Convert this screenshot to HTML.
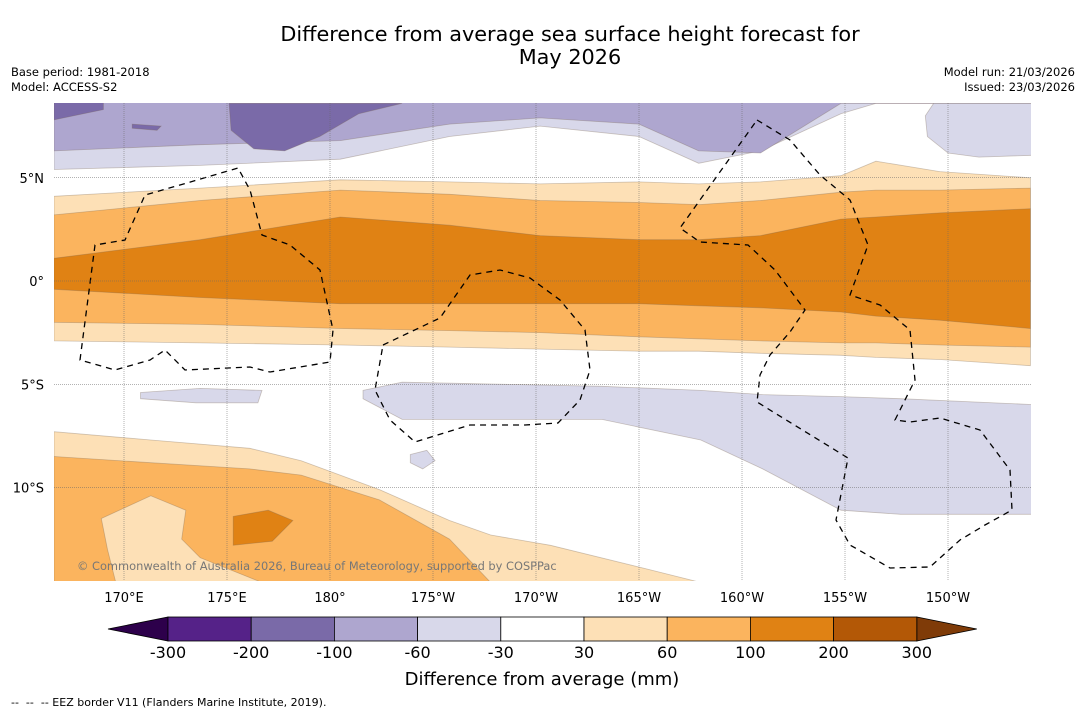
<!DOCTYPE html>
<html><head><meta charset="utf-8"><style>
body{margin:0;background:#fff;font-family:"Liberation Sans","DejaVu Sans",sans-serif;}
</style></head><body>
<svg id="chart" width="1085" height="713" xmlns="http://www.w3.org/2000/svg" style="font-family:'DejaVu Sans','Liberation Sans',sans-serif">
<rect width="1085" height="713" fill="#fff"/>
<text x="570" y="41" font-size="20.8" text-anchor="middle">Difference from average sea surface height forecast for</text>
<text x="570" y="64" font-size="20.8" text-anchor="middle">May 2026</text>
<text x="11" y="76" font-size="11.5">Base period: 1981-2018</text>
<text x="11" y="91" font-size="11.5">Model: ACCESS-S2</text>
<text x="1075" y="76" font-size="11.5" text-anchor="end">Model run: 21/03/2026</text>
<text x="1075" y="91" font-size="11.5" text-anchor="end">Issued: 23/03/2026</text>
<defs><clipPath id="mapclip"><rect x="54" y="103" width="977" height="478"/></clipPath></defs>
<g id="map" clip-path="url(#mapclip)"></g>
<g id="axes"></g>
<g id="cbar"></g>
<text x="542" y="685" font-size="18" text-anchor="middle">Difference from average (mm)</text>
<text x="11" y="706" font-size="11" xml:space="preserve" style="white-space:pre">--  --  -- EEZ border V11 (Flanders Marine Institute, 2019).</text>
</svg>
<script>
// ---- data ----
const levelLabels=["-300","-200","-100","-60","-30","30","60","100","200","300"];
const levelColors=["#552288","#7a6aa8","#aea6cf","#d8d8ea","#ffffff","#fde0b6","#fbb45e","#e08214","#b35806"];
const extendColors=["#2d004b","#7f3b08"];
const lonTicks=[170,175,180,185,190,195,200,205,210];
const lonTickLabels=["170°E","175°E","180°","175°W","170°W","165°W","160°W","155°W","150°W"];
const latTicks=[5,0,-5,-10];
const latTickLabels=["5°N","0°","5°S","10°S"];
// northern bands
const nLons=[166.6,173.7,180.5,185.8,190.2,195,197.9,200.9,204.8,206.5,209.6,214];
const lightOrTop=[4.1,4.5,4.9,4.8,4.7,4.8,4.7,4.8,5.1,5.8,5.3,5.0];
const lightOrBot=[-2.9,-3.0,-3.1,-3.2,-3.3,-3.4,-3.4,-3.5,-3.6,-3.7,-3.8,-4.1];
const midOrTop=[3.2,3.9,4.4,4.2,3.9,3.8,3.7,3.9,4.3,4.4,4.4,4.5];
const midOrBot=[-2.0,-2.1,-2.3,-2.4,-2.5,-2.7,-2.8,-2.9,-3.0,-3.0,-3.1,-3.2];
const darkOrTop=[1.1,2.0,3.1,2.7,2.2,2.0,2.0,2.2,3.0,3.1,3.3,3.5];
const darkOrBot=[-0.4,-0.8,-1.1,-1.1,-1.1,-1.1,-1.2,-1.3,-1.5,-1.7,-1.9,-2.3];
const lightPuBot=[5.4,5.6,5.9,7.0,7.5,7.0,5.7,6.3,8.1,8.6,8.6,8.6];
const midPuBot=[6.3,6.6,6.8,7.6,7.9,7.6,6.3,6.2,8.6,8.6,8.6,8.6];
const darkPuPatch=[[175.1,8.6],[175.2,7.3],[176.3,6.4],[177.8,6.3],[179.5,7.0],[181.4,8.1],[183.5,8.6]];
const rightPuPatch=[[209.3,8.6],[214.5,8.6],[214.5,6.1],[211.5,6.0],[210.0,6.2],[209.0,7.0],[208.9,8.0]];
// southern bands
const sLons=[166.6,171.3,176.1,178.6,182.4,185.8,187.8,190.7,195.6,198,214.5];
const sLightTop=[-7.3,-7.7,-8.1,-8.7,-10.1,-11.6,-12.3,-12.8,-14.0,-14.6,-14.6];
const sMidTop=[-8.5,-8.8,-9.1,-9.4,-10.6,-12.5,-14.6,-14.6,-14.6,-14.6,-14.6];
const sLightPatch=[[168.9,-11.5],[171.3,-10.4],[173.0,-11.1],[172.8,-12.5],[173.7,-13.4],[176.7,-14.6],[169.6,-14.6],[169.2,-13.0]];
const sDarkPatch=[[175.3,-11.4],[177.0,-11.1],[178.2,-11.6],[177.2,-12.6],[175.3,-12.8]];
const lavLons=[181.6,183.5,188.4,193.2,198,201,204.8,207.7,214.5];
const lavTop=[-5.3,-4.9,-5.0,-5.1,-5.3,-5.5,-5.6,-5.7,-6.0];
const lavBot=[-5.7,-6.7,-6.7,-6.7,-7.7,-9.1,-11.1,-11.3,-11.3];
const lavPatchW=[[170.8,-5.4],[173.7,-5.2],[176.7,-5.3],[176.5,-5.9],[173.5,-5.9],[170.8,-5.7]];
const lavPatchS=[[183.9,-8.4],[184.7,-8.2],[185.1,-8.7],[184.5,-9.1],[183.9,-8.8]];
// ---- axes funcs ----
const X=lon=>124+(lon-170)*20.6;
const Y=lat=>281-lat*20.65;
const NS="http://www.w3.org/2000/svg";
const map=document.getElementById('map');
function mk(tag,attrs,parent){const e=document.createElementNS(NS,tag);for(const k in attrs)e.setAttribute(k,attrs[k]);parent.appendChild(e);return e;}
function band(lons,top,bot,color,name){
  let d='M'+lons.map((l,i)=>X(l).toFixed(1)+','+Y(top[i]).toFixed(1)).join('L');
  d+='L'+lons.slice().reverse().map((l,i)=>X(l).toFixed(1)+','+Y(bot[lons.length-1-i]).toFixed(1)).join('L')+'Z';
  const p=mk('path',{d:d,fill:color,stroke:'rgba(120,100,80,0.35)','stroke-width':0.8},map);
  
  
}
function poly(pts,color,name){
  const p=mk('path',{d:'M'+pts.map(q=>X(q[0]).toFixed(1)+','+Y(q[1]).toFixed(1)).join('L')+'Z',fill:color,stroke:'rgba(120,100,80,0.35)','stroke-width':0.8},map);
  
  
}
const topL=nLons.map(()=>9), botL=sLons.map(()=>-15);
band(nLons,topL,lightPuBot,levelColors[3],'band-minus30-minus60-north');
band(nLons,topL,midPuBot,levelColors[2],'band-minus60-minus100-north');
poly(darkPuPatch,levelColors[1],'band-minus100-minus200-patch');
poly([[166.6,9],[169,9],[169,8.3],[166.6,7.8]],levelColors[1],'band-minus100-minus200-west');
poly([[170.4,7.6],[171.8,7.5],[171.6,7.3],[170.4,7.4]],levelColors[1],'band-minus100-minus200-blob');
poly(rightPuPatch,levelColors[3],'band-minus30-minus60-east');
band(nLons,lightOrTop,lightOrBot,levelColors[5],'band-30-60-north');
band(nLons,midOrTop,midOrBot,levelColors[6],'band-60-100-north');
band(nLons,darkOrTop,darkOrBot,levelColors[7],'band-100-200-north');
band(lavLons,lavTop,lavBot,levelColors[3],'band-minus30-minus60-south');
poly(lavPatchW,levelColors[3],'band-minus30-minus60-west-patch');
poly(lavPatchS,levelColors[3],'band-minus30-minus60-small-patch');
band(sLons,sLightTop,botL,levelColors[5],'band-30-60-south');
band(sLons,sMidTop,botL,levelColors[6],'band-60-100-south');
poly(sLightPatch,levelColors[5],'band-30-60-south-patch');
poly(sDarkPatch,levelColors[7],'band-100-200-south-patch');
// EEZ borders (pixel outlines)
const eez=["M80,360L95,245L125,240L145,195L180,185L238,168L250,190L262,235L290,245L320,270L333,330L330,362L270,372L250,367L185,370L165,350L150,360L115,370Z",
"M383,345L440,318L470,275L500,270L530,278L560,300L585,330L590,370L580,400L558,423L525,425L470,425L415,442L390,420L375,390Z",
"M757,120L790,140L820,175L850,200L868,245L850,295L880,305L910,330L915,380L895,420L910,422L940,418L980,430L1010,470L1012,510L985,525L960,540L930,567L890,568L850,545L836,520L848,458L757,402L760,375L770,355L790,332L805,310L775,270L748,245L700,242L680,228Z"];
eez.forEach((d,i)=>{const p=mk('path',{d:d,fill:'none',stroke:'#000','stroke-width':1.3,'stroke-dasharray':'6,5'},map);

});
// gridlines
lonTicks.forEach(l=>{const g=mk('line',{x1:X(l),x2:X(l),y1:103,y2:581,stroke:'#666','stroke-width':0.5,'stroke-dasharray':'1,1'},map);

});
latTicks.forEach(l=>{const g=mk('line',{x1:54,x2:1031,y1:Y(l),y2:Y(l),stroke:'#666','stroke-width':0.5,'stroke-dasharray':'1,1'},map);

});
const cp=mk('text',{x:77,y:570,'font-size':11.4,fill:'#777'},map);cp.textContent='© Commonwealth of Australia 2026, Bureau of Meteorology, supported by COSPPac';


const axes=document.getElementById('axes');
lonTicks.forEach((l,i)=>{const t=mk('text',{x:X(l),y:602,'font-size':13,'text-anchor':'middle'},axes);t.textContent=lonTickLabels[i];

});
latTicks.forEach((l,i)=>{const t=mk('text',{x:44,y:Y(l)+5,'font-size':13,'text-anchor':'end'},axes);t.textContent=latTickLabels[i];

});
// colorbar
const cb=document.getElementById('cbar');
const cx0=168,cw=83.2,cy=617,ch=24;
let tl=mk('path',{d:`M108,${cy+ch/2}L${cx0},${cy}L${cx0},${cy+ch}Z`,fill:extendColors[0],stroke:'#000','stroke-width':0.8},cb);


const xe=cx0+cw*levelColors.length;
let tr=mk('path',{d:`M${xe+60},${cy+ch/2}L${xe},${cy}L${xe},${cy+ch}Z`,fill:extendColors[1],stroke:'#000','stroke-width':0.8},cb);


levelColors.forEach((c,i)=>{const r=mk('rect',{x:cx0+i*cw,y:cy,width:cw,height:ch,fill:c,stroke:'#000','stroke-width':0.8},cb);

});
levelLabels.forEach((s,i)=>{const t=mk('text',{x:cx0+i*cw,y:658,'font-size':16,'text-anchor':'middle'},cb);t.textContent=s;

});
</script>
</body></html>
